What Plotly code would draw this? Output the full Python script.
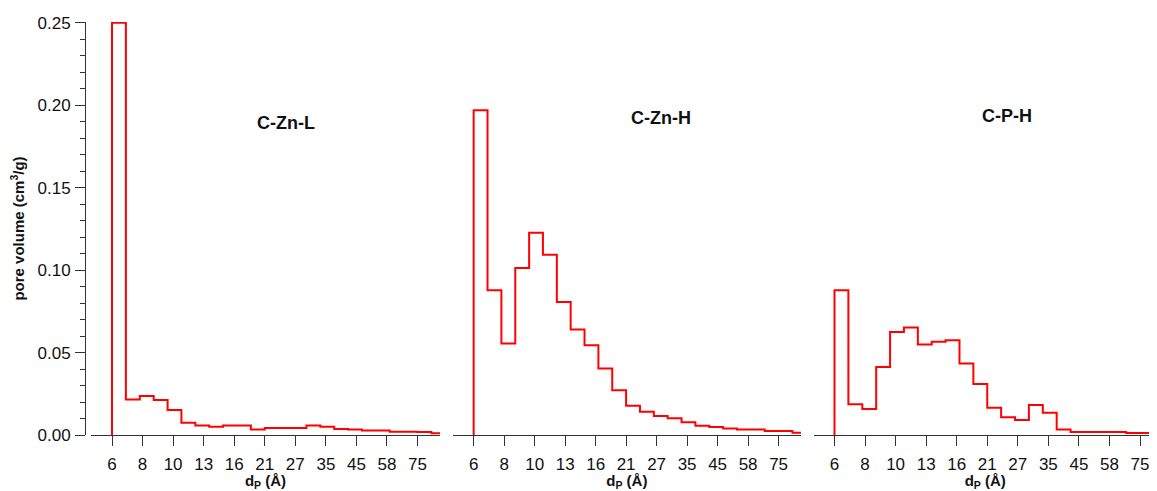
import plotly.graph_objects as go
import math

# ---- data ----
bin_edges = [6.00, 6.73, 7.55, 8.47, 9.50, 10.65, 11.95, 13.40, 15.03, 16.86, 18.91,
             21.21, 23.79, 26.69, 29.93, 33.58, 37.66, 42.24, 47.38, 53.14, 59.61,
             66.86, 74.99, 84.12, 94.35]

c_zn_l = [0.250, 0.0216, 0.0236, 0.0212, 0.0151, 0.0075, 0.0057, 0.0050, 0.0057, 0.0057,
          0.0034, 0.0042, 0.0042, 0.0042, 0.0057, 0.0050, 0.0036, 0.0034, 0.0028, 0.0028,
          0.0020, 0.0020, 0.0018, 0.0010]
c_zn_h = [0.197, 0.0878, 0.0555, 0.1013, 0.1227, 0.1094, 0.0807, 0.0640, 0.0545, 0.0404,
          0.0272, 0.0177, 0.0141, 0.0115, 0.0101, 0.0077, 0.0056, 0.0048, 0.0040, 0.0034,
          0.0034, 0.0024, 0.0024, 0.0014]
c_p_h = [0.0878, 0.0186, 0.0157, 0.0413, 0.0625, 0.0652, 0.0549, 0.0565, 0.0575, 0.0434,
         0.0309, 0.0165, 0.0107, 0.0091, 0.0182, 0.0135, 0.0034, 0.0018, 0.0018, 0.0018,
         0.0018, 0.0012, 0.0012, 0.0012]

series_names = ["C-Zn-L", "C-Zn-H", "C-P-H"]
series_values = [c_zn_l, c_zn_h, c_p_h]

tick_labels = ["6", "8", "10", "13", "16", "21", "27", "35", "45", "58", "75"]
y_tick_values = [0.00, 0.05, 0.10, 0.15, 0.20, 0.25]

# ---- layout helpers ----
# the page body has an 8px default margin, so the figure is offset by 8px
OFF = 8
W, H = 1157 - OFF, 491 - OFF
ML, MR, MT = 85 - OFF, 0, 22 - OFF
PLOT_BOTTOM = 435 - OFF
MB = H - PLOT_BOTTOM
PW = W - ML - MR
PH = PLOT_BOTTOM - MT

# tick positions: labels are rounded values of an evenly log-spaced sequence
tick_pos = [6 * (75 / 6) ** (k / 10) for k in range(len(tick_labels))]

domains = [[6 / PW, 355 / PW], [367.7 / PW, 716 / PW], [728.5 / PW, 1.0]]
x_ranges = [[math.log10(5.044), math.log10(90.3)],
            [math.log10(5.044), math.log10(90.3)],
            [math.log10(5.044), math.log10(86.3)]]

axis_col = "#333333"
font_fam = "Liberation Sans, Arial, Helvetica, sans-serif"

fig = go.Figure()
for i, (name, vals) in enumerate(zip(series_names, series_values)):
    xs = [bin_edges[0]] + bin_edges
    ys = [0] + vals + [vals[-1]]
    fig.add_trace(go.Scatter(
        x=xs, y=ys, mode="lines", line=dict(color="#ff0000", width=2, shape="hv"),
        xaxis="x" if i == 0 else f"x{i+1}", yaxis="y", name=name, showlegend=False,
        hoverinfo="skip"))

layout = dict(
    width=W, height=H,
    margin=dict(l=ML, r=MR, t=MT, b=MB, autoexpand=False),
    paper_bgcolor="white", plot_bgcolor="white",
    font=dict(family=font_fam, size=17, color="#111111"),
    showlegend=False,
    yaxis=dict(
        range=[0, 0.2505], anchor="free", position=0, automargin=False,
        tickvals=y_tick_values, ticktext=[f"{v:.2f}" for v in y_tick_values],
        ticks="outside", ticklen=10, tickwidth=1, tickcolor=axis_col,
        minor=dict(dtick=0.01, tick0=0, ticks="outside", ticklen=5, tickcolor=axis_col, tickwidth=1),
        showline=True, linecolor=axis_col, linewidth=1, showgrid=False, zeroline=False,
        tickfont=dict(size=17), ticklabelstandoff=1,
        title=dict(text="<b>pore volume (cm<sup>3</sup>/g)</b>", font=dict(size=15), standoff=8),
    ),
)
for i in range(3):
    key = "xaxis" if i == 0 else f"xaxis{i+1}"
    layout[key] = dict(
        type="log", domain=domains[i], range=x_ranges[i], anchor="y", automargin=False,
        tickvals=tick_pos, ticktext=tick_labels,
        ticks="outside", ticklen=10, tickwidth=1, tickcolor=axis_col,
        showline=True, linecolor=axis_col, linewidth=1, showgrid=False, zeroline=False,
        tickfont=dict(size=17), ticklabelstandoff=4,
        title=dict(text="<b>d<sub>P</sub> (Å)</b>", font=dict(size=15), standoff=3),
    )

ann_px = [(286, 123), (661, 118), (1007, 116)]
annotations = []
for name, (px, py) in zip(series_names, ann_px):
    annotations.append(dict(
        text=f"<b>{name}</b>", x=(px - 85) / PW, y=(435 - py) / PH,
        xref="paper", yref="paper", xanchor="center", yanchor="middle",
        showarrow=False, font=dict(size=18, color="#111111")))
layout["annotations"] = annotations

fig.update_layout(**layout)
fig.write_html("out.html")
